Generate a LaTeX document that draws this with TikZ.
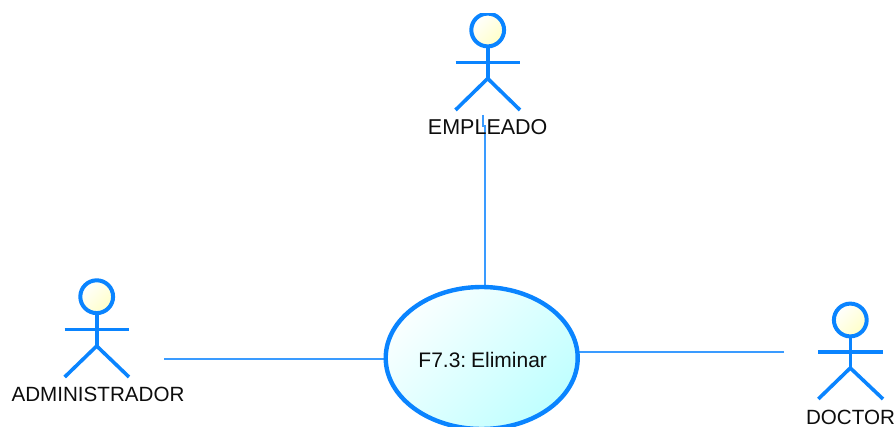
\documentclass[tikz,border=0pt]{standalone}
\usepackage{fontspec}
\setmainfont{Liberation Sans}
\usetikzlibrary{shapes.geometric}
\definecolor{umlblue}{HTML}{0A84FF}
\definecolor{linkblue}{HTML}{3A9BFF}
\tikzset{
  head/.style={circle,draw=umlblue,line width=4pt,minimum size=32.8pt,inner sep=0pt,outer sep=0pt,
    top color=white,bottom color=yellow!22!white,shading angle=45},
  limb/.style={draw=umlblue,line width=3.6pt},
  link/.style={draw=linkblue,line width=1.5pt},
  usecase/.style={ellipse,draw=umlblue,line width=4.4pt,minimum width=192pt,minimum height=142pt,inner sep=0pt,outer sep=0pt,
    top color=cyan!2!white,bottom color=cyan!25!white,shading angle=45},
  label/.style={inner sep=0pt,font=\fontsize{20.6}{24}\selectfont,text=black!95}
}
\begin{document}
\begin{tikzpicture}[x=1pt,y=-1pt]
\useasboundingbox (0,0) rectangle (896,427);
\clip (0,0) rectangle (896,427);
% connectors
\coordinate (empEnd) at (482.8,115);
\coordinate (empJogA) at (482.8,126);
\coordinate (empJogB) at (484.8,126);
\coordinate (admEnd) at (164,359);
\coordinate (docEnd) at (784,352);
\coordinate (ucTop) at (484.8,286);
\coordinate (ucLeft) at (385,359);
\coordinate (ucRight) at (579,352);
\draw[link] (empEnd) -- (empJogA) -- (empJogB) -- (ucTop);
\draw[link] (admEnd) -- (ucLeft);
\draw[link] (docEnd) -- (ucRight);
\node[usecase] (uc) at (481.7,358) {};
\node[label,font=\fontsize{21}{24}\selectfont] (ucText) at (482.7,359.5) {F7.3:\kern-1pt\ Eliminar};
% EMPLEADO
\begin{scope}
\clip (430,14) rectangle (540,120);
\node[head] (h1) at (487.7,30) {};
\end{scope}
\coordinate (w1) at (487.7,78.5);
\coordinate (al1) at (455.5,62.5);
\coordinate (ar1) at (520,62.5);
\coordinate (ll1) at (455.5,110);
\coordinate (lr1) at (520,110);
\draw[limb] (h1.south) -- (w1);
\draw[limb] (al1) -- (ar1);
\draw[limb] (ll1) -- (w1) -- (lr1);
\node[label,font=\fontsize{21.5}{24}\selectfont] (t1) at (487.7,127) {EMPLEADO};
% ADMINISTRADOR
\node[head] (h2) at (96.7,296.7) {};
\coordinate (w2) at (96.7,346);
\coordinate (al2) at (64.7,329.3);
\coordinate (ar2) at (129,329.3);
\coordinate (ll2) at (64.7,377);
\coordinate (lr2) at (129,377);
\draw[limb] (h2.south) -- (w2);
\draw[limb] (al2) -- (ar2);
\draw[limb] (ll2) -- (w2) -- (lr2);
\node[label] (t2) at (98,394) {ADMINISTRADOR};
% DOCTOR
\node[head] (h3) at (850.3,320) {};
\coordinate (w3) at (850.3,368);
\coordinate (al3) at (818.3,352);
\coordinate (ar3) at (883,352);
\coordinate (ll3) at (818.3,399);
\coordinate (lr3) at (883,399);
\draw[limb] (h3.south) -- (w3);
\draw[limb] (al3) -- (ar3);
\draw[limb] (ll3) -- (w3) -- (lr3);
\node[label] (t3) at (850.5,417) {DOCTOR};
\end{tikzpicture}
\end{document}
